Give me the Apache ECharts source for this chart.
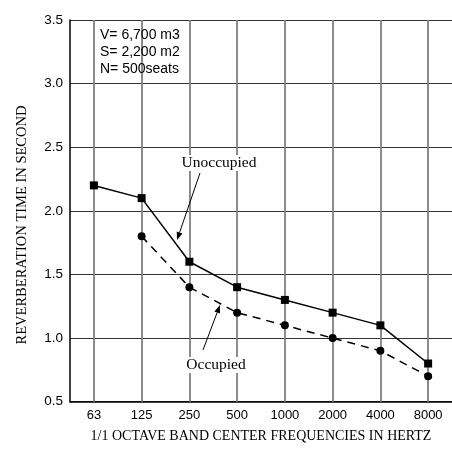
<!DOCTYPE html>
<html>
<head>
<meta charset="utf-8">
<script src="https://cdn.jsdelivr.net/npm/echarts@6/dist/echarts.min.js"></script>
<style>html,body{margin:0;padding:0;background:#fff}#c{width:452px;height:451px}</style>
</head>
<body>
<div id="c"></div>
<script>
var categories = ['63', '125', '250', '500', '1000', '2000', '4000', '8000'];
var unoccupied = [2.2, 2.1, 1.6, 1.4, 1.3, 1.2, 1.1, 0.8];
var occupied = [null, 1.8, 1.4, 1.2, 1.1, 1.0, 0.9, 0.7];
var infoLines = ['V= 6,700 m3', 'S= 2,200 m2', 'N= 500seats'];
var xName = '1/1 OCTAVE BAND CENTER FREQUENCIES IN HERTZ';
var yName = 'REVERBERATION TIME IN SECOND';

var SANS = '"Liberation Sans", Arial, sans-serif';
var SERIF = '"Liberation Serif", "Times New Roman", serif';

var chart = echarts.init(document.getElementById('c'));

var graphics = [];
infoLines.forEach(function (t, i) {
  graphics.push({
    type: 'text', left: 100, top: 28 + i * 17, z: 10,
    style: { text: t, font: '14px ' + SANS, fill: '#000' }
  });
});
graphics.push({
  type: 'text', x: 22, y: 225, rotation: Math.PI / 2, z: 10,
  style: { text: yName, font: '14.5px ' + SERIF, fill: '#000', align: 'center', verticalAlign: 'middle' }
});
graphics.push({
  type: 'text', x: 219, y: 163, z: 10,
  style: { text: 'Unoccupied', font: '15.5px ' + SERIF, fill: '#000', align: 'center', verticalAlign: 'middle', backgroundColor: '#fff' }
});
graphics.push({
  type: 'text', x: 216, y: 365, z: 10,
  style: { text: 'Occupied', font: '15.5px ' + SERIF, fill: '#000', align: 'center', verticalAlign: 'middle', backgroundColor: '#fff' }
});
function arrow(x1, y1, x2, y2) {
  var ang = Math.atan2(y2 - y1, x2 - x1);
  var L = 8, W = 3;
  var bx = x2 - L * Math.cos(ang), by = y2 - L * Math.sin(ang);
  var px = -Math.sin(ang) * W, py = Math.cos(ang) * W;
  graphics.push({ type: 'line', z: 10, shape: { x1: x1, y1: y1, x2: bx, y2: by }, style: { stroke: '#000', lineWidth: 1 } });
  graphics.push({ type: 'polygon', z: 10, shape: { points: [[x2, y2], [bx + px, by + py], [bx - px, by - py]] }, style: { fill: '#000' } });
}
arrow(200, 173, 177, 240);
arrow(203, 350, 220, 305);

chart.setOption({
  animation: false,
  backgroundColor: '#fff',
  grid: { left: 70, top: 20, width: 384, height: 381.7 },
  graphic: graphics,
  xAxis: {
    type: 'category', data: categories, boundaryGap: true,
    name: xName, nameLocation: 'middle', nameGap: 28,
    nameTextStyle: { fontFamily: SERIF, fontSize: 14, color: '#000' },
    axisLine: { lineStyle: { color: '#000', width: 1.5 } },
    axisTick: { show: false },
    axisLabel: { fontFamily: SANS, fontSize: 13, color: '#000', margin: 7, interval: 0 },
    splitLine: { show: false }
  },
  yAxis: {
    type: 'value', min: 0.5, max: 3.5, interval: 0.5,
    axisLine: { show: true, lineStyle: { color: '#000', width: 1.5 } },
    axisTick: { show: false },
    axisLabel: { fontFamily: SANS, fontSize: 13.5, color: '#000', margin: 7, formatter: function (v) { return v.toFixed(1); } },
    splitLine: { show: true, lineStyle: { color: '#333', width: 1.2 } }
  },
  series: [
    {
      name: 'Unoccupied', type: 'line', data: unoccupied, z: 3,
      symbol: 'rect', symbolSize: 8,
      itemStyle: { color: '#000' },
      lineStyle: { color: '#000', width: 1.5 },
      markLine: {
        silent: true, symbol: 'none', z: 1, animation: false,
        label: { show: false },
        lineStyle: { color: '#808080', width: 1.8, type: 'solid' },
        data: categories.map(function (c) { return { xAxis: c }; })
      }
    },
    {
      name: 'Occupied', type: 'line', data: occupied, z: 3,
      symbol: 'circle', symbolSize: 8,
      itemStyle: { color: '#000' },
      lineStyle: { color: '#000', width: 1.5, type: [8, 6] }
    }
  ]
});
</script>
</body>
</html>
